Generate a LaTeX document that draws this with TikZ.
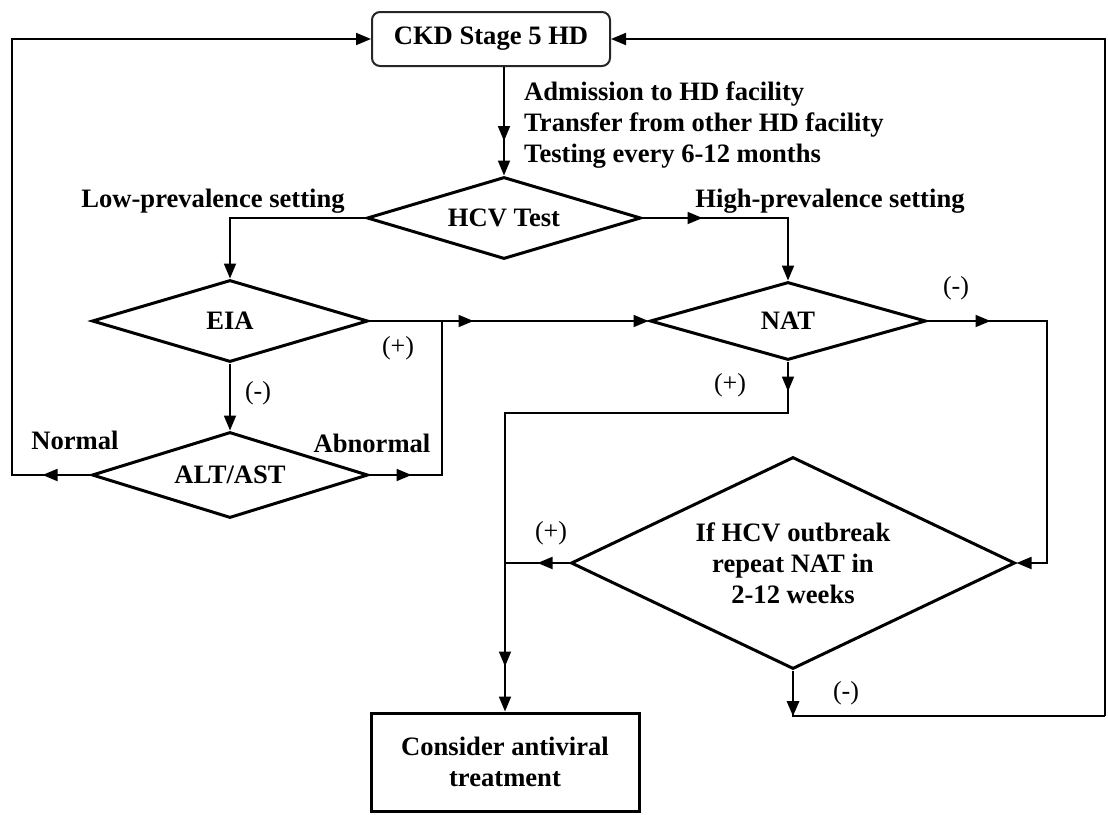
\documentclass[tikz,border=0pt]{standalone}
\usepackage{fontspec}
\setmainfont{Liberation Serif}
\usetikzlibrary{shapes.geometric,arrows.meta,decorations.markings}
\begin{document}
\begin{tikzpicture}[x=1pt,y=-1pt,
 every node/.style={font=\fontsize{26.6}{31}\selectfont\bfseries},
 dia/.style={draw,shape=diamond,line width=3pt,inner sep=0pt,align=center},
 conn/.style={line width=1.8pt},
 tip/.style={-{Triangle[length=15pt,width=12pt]}},
 midtip/.style={postaction={decorate},decoration={markings,mark=at position #1 with {\arrow{Triangle[length=15pt,width=12pt]}}}},
 sign/.style={inner sep=0pt,font=\fontsize{26}{31}\selectfont\mdseries},
 lbl/.style={inner sep=0pt}
]
\useasboundingbox (0,0) rectangle (1108,814);

\node[draw,rounded corners=8pt,line width=2pt,draw=black!85,minimum width=238pt,minimum height=54pt,inner sep=0pt] (ckd) at (491,39) {CKD Stage 5 HD};
\node[dia,aspect=3.3,minimum width=274pt,minimum height=82pt] (hcv) at (504,218) {HCV Test};
\node[dia,aspect=3.3,minimum width=276pt,minimum height=82pt] (eia) at (230,321) {EIA};
\node[dia,aspect=3.2,minimum width=276pt,minimum height=86pt] (alt) at (230,475) {ALT/AST};
\node[dia,aspect=3.5,minimum width=276pt,minimum height=78pt] (nat) at (788,321) {NAT};
\node[dia,aspect=2.1,minimum width=444pt,minimum height=212pt] (rep) at (793,563) {If HCV outbreak\\repeat NAT in\\2-12 weeks};
\node[draw,line width=3pt,minimum width=268pt,minimum height=98pt,inner sep=0pt,align=center] (cons) at (505,762) {Consider antiviral\\treatment};

\coordinate (j1) at (442,321);
\coordinate (lc) at (12,39);
\coordinate (rc) at (1047,321);
\coordinate (k) at (505,413);
\coordinate (br) at (1105,716);
\coordinate (tr) at (1105,39);
\coordinate (bl) at (793,716);

\draw[conn,tip,midtip=74pt] (hcv.north |- ckd.south) -- (hcv.north);
\draw[conn,tip] (hcv.west) -| (eia.north);
\draw[conn,tip,midtip=60pt] (hcv.east) -| (nat.north);
\draw[conn,tip,midtip=104pt] (eia.east) -- (nat.west);
\draw[conn,midtip=42pt] (alt.east) -| (j1);
\draw[conn,tip] (eia.south) -- (alt.north);
\draw[conn,tip,midtip=48pt] (alt.west) -| (lc) -- (ckd.west);
\draw[conn,tip,midtip=63pt] (nat.east) -- (rc) |- (rep.east);
\draw[conn,tip,postaction={decorate},decoration={markings,
  mark=at position 30pt with {\arrow{Triangle[length=15pt,width=12pt]}},
  mark=at position 588pt with {\arrow{Triangle[length=15pt,width=12pt]}}}]
  (nat.south) |- (k) -- (cons.north);
\draw[conn,midtip=32pt] (rep.west) -- (rep.west -| k);
\draw[conn] (rep.south) -- (bl) -- (br);
\fill (bl) -- ++(-6.5,-15) -- ++(13,0) -- cycle;
\draw[conn,tip] (br) -- (tr) -- (ckd.east);

\node[lbl,anchor=west,align=left] (adm) at (524,125) {Admission to HD facility\\Transfer from other HD facility\\Testing every 6-12 months};
\node[lbl] (lowp) at (213,201) {Low-prevalence setting};
\node[lbl] (highp) at (830,201) {High-prevalence setting};
\node[lbl] (norm) at (75,440) {Normal};
\node[lbl] (abn) at (372,443) {Abnormal};
\node[sign] (s1) at (398,348) {(+)};
\node[sign] (s2) at (258,393) {(-)};
\node[sign] (s3) at (956,288) {(-)};
\node[sign] (s4) at (730,385) {(+)};
\node[sign] (s5) at (551,533) {(+)};
\node[sign] (s6) at (846,693) {(-)};
\end{tikzpicture}
\end{document}
